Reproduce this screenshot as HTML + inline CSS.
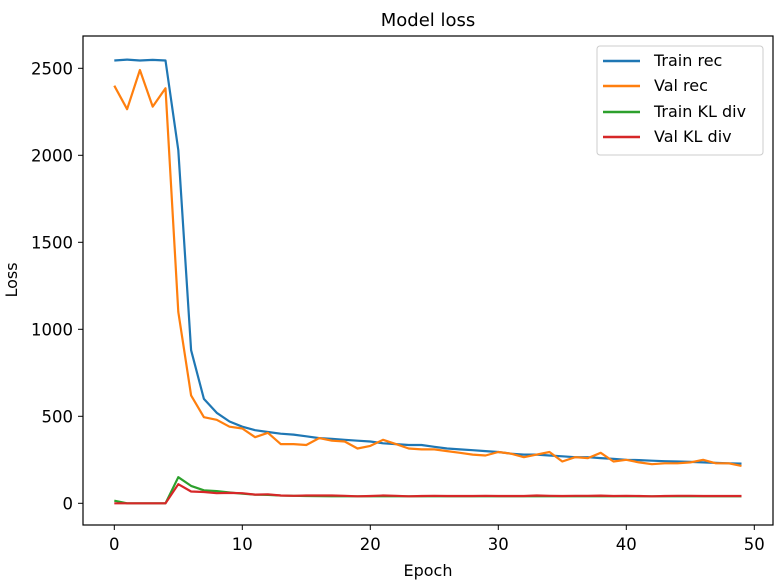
<!DOCTYPE html>
<html><head><meta charset="utf-8"><style>body{margin:0;background:#fff}svg{display:block;font-family:"DejaVu Sans","Liberation Sans",sans-serif}</style></head>
<body>
<svg id="s" width="780" height="586" xmlns="http://www.w3.org/2000/svg">
<rect width="780" height="586" fill="#fff"/>
<text x="428" y="26" font-size="18" text-anchor="middle">Model loss</text>
<g id="g"></g>
<rect x="83" y="36" width="690" height="489" fill="none" stroke="#000" stroke-width="1.2"/>
<text x="428" y="576" font-size="16" text-anchor="middle">Epoch</text>
<text transform="translate(17,280) rotate(-90)" font-size="16" text-anchor="middle">Loss</text>
<rect x="597" y="46" width="166" height="109" rx="3" fill="#fff" stroke="#ccc"/>
<g font-size="16" stroke-width="2.5">
<line x1="603" x2="640" y1="61" y2="61" stroke="#1f77b4"/><text x="654" y="66" stroke="none">Train rec</text>
<line x1="603" x2="640" y1="86" y2="86" stroke="#ff7f0e"/><text x="654" y="91" stroke="none">Val rec</text>
<line x1="603" x2="640" y1="112" y2="112" stroke="#2ca02c"/><text x="654" y="117" stroke="none">Train KL div</text>
<line x1="603" x2="640" y1="137" y2="137" stroke="#d62728"/><text x="654" y="142" stroke="none">Val KL div</text>
</g>
</svg>
<script>
var X=function(i){return 114.3+12.8*i},Y=function(v){return 503.3-0.174*v};
var tr=[2545,2550,2545,2548,2545,2030,880,600,520,470,440,420,410,400,395,385,375,370,365,360,355,345,340,335,335,325,315,310,305,300,295,285,280,280,275,270,265,265,260,255,250,248,245,242,240,238,235,232,230,228];
var vr=[2400,2265,2490,2280,2385,1100,620,495,480,440,430,380,405,340,340,335,375,360,355,315,330,365,340,315,310,310,300,290,280,275,295,285,265,280,295,240,265,260,290,240,250,235,225,230,230,235,250,230,230,215];
var tk=[15,0,0,0,0,150,100,75,70,62,55,50,48,45,43,42,41,40,40,40,40,40,40,40,40,40,40,40,40,40,40,40,40,40,40,40,40,40,40,40,40,40,40,40,40,40,40,40,40,40];
var vk=[0,0,0,0,0,110,68,65,58,60,58,50,52,45,43,45,45,45,43,40,42,45,43,40,42,43,42,42,42,43,42,42,42,45,43,42,43,43,44,42,43,42,40,42,43,43,42,42,42,42];
var h='';
function pl(d,c){h+='<polyline fill="none" stroke="'+c+'" stroke-width="2.2" stroke-linejoin="round" points="'+d.map(function(v,i){return X(i).toFixed(1)+','+Y(v).toFixed(1)}).join(' ')+'"/>';}
pl(tr,'#1f77b4');pl(vr,'#ff7f0e');pl(tk,'#2ca02c');pl(vk,'#d62728');
for(var v=0;v<=2500;v+=500){var y=Y(v);h+='<line x1="78" x2="83" y1="'+y+'" y2="'+y+'" stroke="#000"/><text x="73" y="'+(y+6)+'" font-size="16.5" text-anchor="end">'+v+'</text>';}
for(var i=0;i<=50;i+=10){var x=X(i);h+='<line x1="'+x+'" x2="'+x+'" y1="525" y2="530" stroke="#000"/><text x="'+x+'" y="550" font-size="16.5" text-anchor="middle">'+i+'</text>';}
document.getElementById('g').innerHTML=h;
</script>
</body></html>
